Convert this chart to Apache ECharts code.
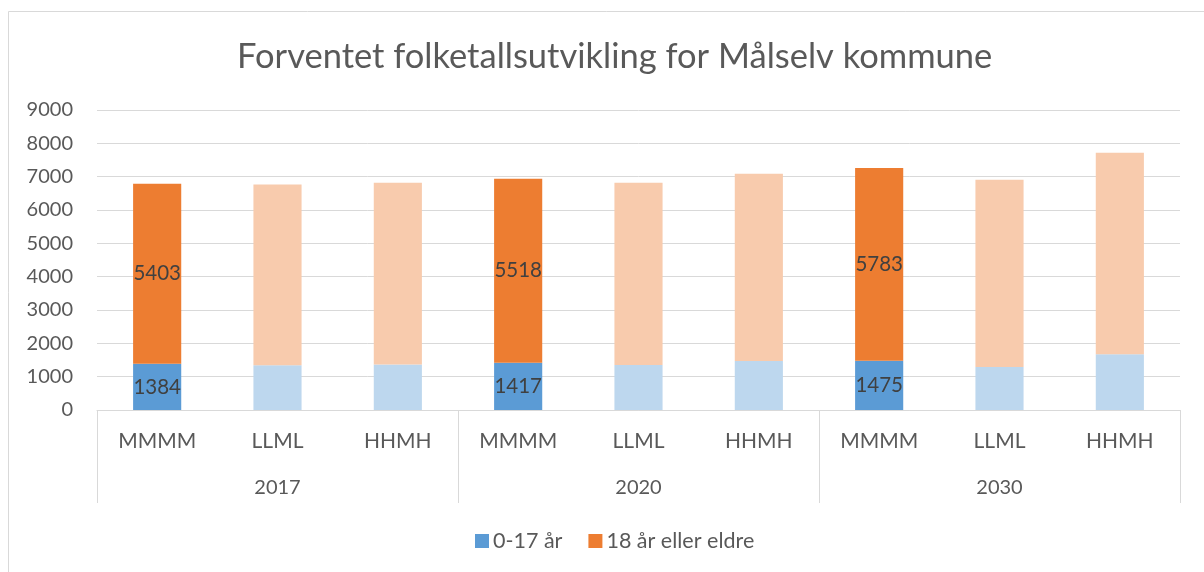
<!DOCTYPE html>
<html>
<head>
<meta charset="utf-8">
<script src="https://cdn.jsdelivr.net/npm/echarts@6/dist/echarts.min.js"></script>
<style>
html,body{margin:0;padding:0;background:#fff;}
#c{width:1204px;height:572px;}
</style>
</head>
<body>
<div id="c"></div>
<script>
const years = ['2017', '2020', '2030'];
const scenarios = ['MMMM', 'LLML', 'HHMH'];
// values per (year, scenario) in order: 2017 MMMM, LLML, HHMH, 2020 ..., 2030 ...
const young = [1384, 1342, 1362, 1417, 1352, 1472, 1475, 1292, 1672];
const adults = [5403, 5420, 5459, 5518, 5469, 5619, 5783, 5619, 6048];
const yTicks = [0, 1000, 2000, 3000, 4000, 5000, 6000, 7000, 8000, 9000];
const seriesNames = ['0-17 år', '18 år eller eldre'];
const titleText = 'Forventet folketallsutvikling for Målselv kommune';

const FONT = 'Lato, "Open Sans", sans-serif';
const darkCols = ['#5B9BD5', '#ED7D31'];
const lightCols = ['#BDD7EE', '#F8CBAD'];

const cats = [];
years.forEach(() => scenarios.forEach(s => cats.push(s)));

function buildData(vals, si) {
  return vals.map((v, i) => {
    const isMain = (i % scenarios.length) === 0;
    return {
      value: v,
      itemStyle: { color: isMain ? darkCols[si] : lightCols[si] },
      label: { show: isMain }
    };
  });
}

const chart = echarts.init(document.getElementById('c'), null, {renderer: 'canvas'});
chart.setOption({
  animation: false,
  backgroundColor: '#fff',
  title: {
    text: titleText,
    left: 232,
    top: 34,
    textStyle: { fontFamily: FONT, fontSize: 34.5, fontWeight: 'normal', color: '#595959' }
  },
  graphic: [{
    type: 'rect',
    shape: { x: 8.5, y: 11.5, width: 1300, height: 700 },
    style: { fill: 'none', stroke: '#D9D9D9', lineWidth: 1 },
    silent: true
  }],
  legend: {
    data: seriesNames,
    left: 470,
    top: 525,
    icon: 'rect',
    itemWidth: 14,
    itemHeight: 14,
    itemGap: 26,
    textStyle: { fontFamily: FONT, fontSize: 21.5, color: '#595959', padding: [0, 0, 0, -1] }
  },
  grid: { left: 97, right: 24, top: 110, bottom: 162, containLabel: false },
  xAxis: [{
    type: 'category',
    data: cats,
    axisLine: { show: true, lineStyle: { color: '#D9D9D9', width: 1 } },
    axisTick: { show: false },
    axisLabel: { interval: 0, margin: 21, fontFamily: FONT, fontSize: 21, color: '#595959' }
  }, {
    type: 'category',
    data: years,
    position: 'bottom',
    axisLine: { show: false },
    axisTick: { show: true, length: 93, interval: 0, lineStyle: { color: '#D9D9D9', width: 1 } },
    axisLabel: { interval: 0, margin: 68, fontFamily: FONT, fontSize: 20, color: '#595959' }
  }],
  yAxis: {
    type: 'value',
    min: 0, max: 9000, interval: 1000,
    axisLine: { show: false },
    axisTick: { show: false },
    splitLine: { lineStyle: { color: '#D9D9D9', width: 1 } },
    axisLabel: { margin: 24, fontFamily: FONT, fontSize: 20, color: '#595959',
      formatter: v => yTicks.includes(v) ? String(v) : '' }
  },
  series: [{
    name: seriesNames[0],
    type: 'bar',
    stack: 'total',
    barWidth: '40%',
    itemStyle: { color: darkCols[0] },
    label: { position: 'inside', fontFamily: FONT, fontSize: 20.5, color: '#404040' },
    data: buildData(young, 0)
  }, {
    name: seriesNames[1],
    type: 'bar',
    stack: 'total',
    barWidth: '40%',
    itemStyle: { color: darkCols[1] },
    label: { position: 'inside', fontFamily: FONT, fontSize: 20.5, color: '#404040' },
    data: buildData(adults, 1)
  }]
});
</script>
</body>
</html>
